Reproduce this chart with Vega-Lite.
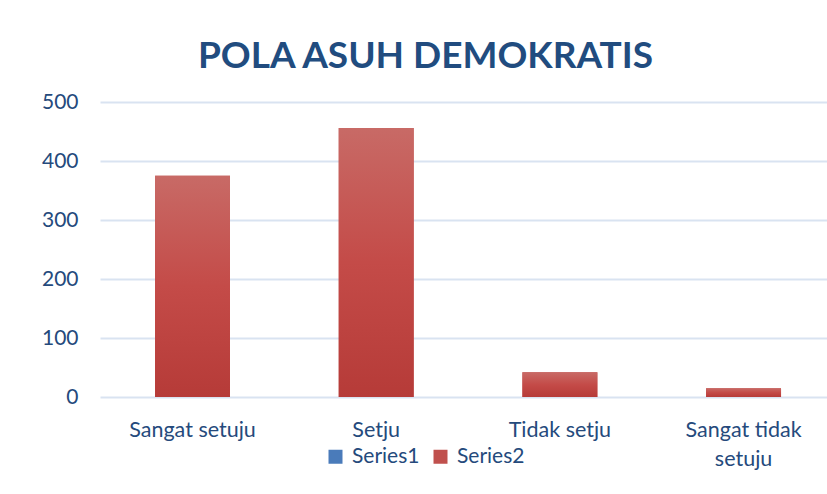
{
  "$schema": "https://vega.github.io/schema/vega-lite/v6.json",
  "width": 727,
  "height": 295,
  "autosize": {"type": "none"},
  "padding": {"left": 100, "top": 102, "right": 0, "bottom": 97},
  "background": "white",
  "title": {
    "text": "POLA ASUH DEMOKRATIS",
    "font": "Lato",
    "fontSize": 37,
    "fontWeight": "bold",
    "color": "#214C7F",
    "anchor": "middle",
    "frame": "group",
    "dx": -38,
    "offset": 15
  },
  "data": {
    "values": [
      {"kategori": "Sangat setuju", "seri": "Series2", "nilai": 375},
      {"kategori": "Setju", "seri": "Series2", "nilai": 456},
      {"kategori": "Tidak setju", "seri": "Series2", "nilai": 42},
      {"kategori": "Sangat tidak setuju", "seri": "Series2", "nilai": 15}
    ]
  },
  "encoding": {
    "x": {
      "field": "kategori",
      "type": "nominal",
      "sort": null,
      "scale": {"paddingInner": 0.592, "paddingOuter": 0.275, "align": 0.545},
      "axis": {
        "title": null,
        "domain": false,
        "ticks": false,
        "tickSize": 0,
        "labelAngle": 0,
        "labelFont": "Lato",
        "labelFontSize": 21.5,
        "labelColor": "#254A7C",
        "labelBaseline": "alphabetic",
        "labelPadding": 39,
        "labelLineHeight": 29,
        "labelLimit": 0,
        "labelExpr": "datum.value == 'Sangat tidak setuju' ? ['Sangat tidak', 'setuju'] : datum.label"
      }
    },
    "y": {
      "field": "nilai",
      "type": "quantitative",
      "scale": {"domain": [0, 500]},
      "axis": {
        "title": null,
        "domain": false,
        "ticks": false,
        "tickSize": 0,
        "values": [0, 100, 200, 300, 400, 500],
        "labelFont": "Lato",
        "labelFontSize": 21,
        "labelColor": "#254A7C",
        "labelPadding": 22,
        "gridColor": "#D9E3F1",
        "gridWidth": 2
      }
    }
  },
  "layer": [
    {
      "mark": {"type": "bar"},
      "encoding": {
        "color": {
          "field": "seri",
          "type": "nominal",
          "scale": {"domain": ["Series1", "Series2"], "range": ["#4A7BBA", "#C0504D"]},
          "legend": {
            "title": null,
            "orient": "none",
            "legendX": 225,
            "legendY": 344,
            "direction": "horizontal",
            "symbolType": "square",
            "symbolSize": 196,
            "symbolStrokeWidth": 0,
            "symbolOpacity": 1,
            "labelFont": "Lato",
            "labelFontSize": 21,
            "labelColor": "#254A7C",
            "labelOffset": 6,
            "columnPadding": 10,
            "padding": 0
          }
        }
      }
    },
    {
      "mark": {
        "type": "bar",
        "color": {"gradient": "linear", "x1": 0, "y1": 0, "x2": 0, "y2": 1, "stops": [{"offset": 0, "color": "#C86A66"}, {"offset": 0.5, "color": "#C44B48"}, {"offset": 1, "color": "#B63B38"}]}
      }
    }
  ],
  "config": {"view": {"stroke": null}}
}
